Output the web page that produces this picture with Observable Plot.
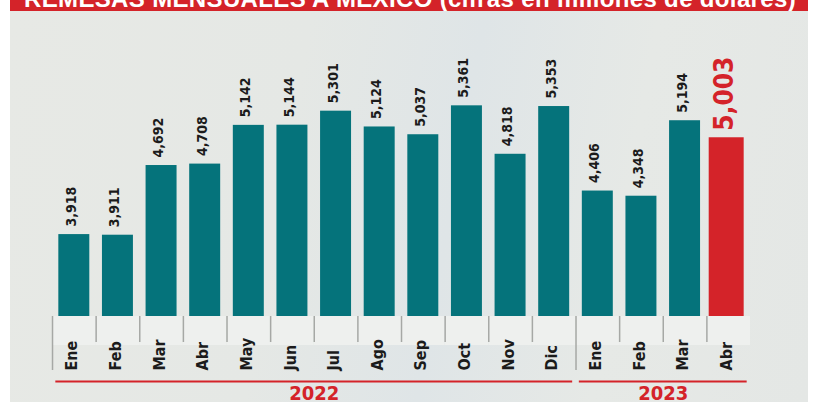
<!DOCTYPE html>
<html>
<head>
<meta charset="utf-8">
<script src="https://cdn.jsdelivr.net/npm/d3@7"></script>
<script src="https://cdn.jsdelivr.net/npm/@observablehq/plot@0.6"></script>
<style>
  html, body { margin: 0; padding: 0; background: #ffffff; }
  #wrap { position: relative; width: 818px; height: 402px; overflow: hidden; }
  #panel { position: absolute; left: 10px; top: 0; width: 798px; height: 402px;
    background: linear-gradient(100deg, #e7e9e5 0%, #e5e8e5 35%, #dfe5e7 55%, #e6e9e6 75%, #e4e7e5 100%); }
  #title { position: absolute; left: 10px; top: 0; width: 798px; height: 11px; background: #d42329; overflow: hidden; }
  #title span { position: absolute; left: 14px; top: -13px; white-space: nowrap; color: #fff;
    font: bold 24px "Liberation Sans", Arial, sans-serif; line-height: 24px; letter-spacing: 0.35px; }
  #chart { position: absolute; left: 0; top: 0; }
</style>
</head>
<body>
<div id="wrap">
  <div id="panel"></div>
  <div id="title"><span>REMESAS MENSUALES A MÉXICO (cifras en millones de dólares)</span></div>
  <div id="chart"></div>
</div>
<script>
const months = ["Ene","Feb","Mar","Abr","May","Jun","Jul","Ago","Sep","Oct","Nov","Dic","Ene","Feb","Mar","Abr"];
const years  = [2022,2022,2022,2022,2022,2022,2022,2022,2022,2022,2022,2022,2023,2023,2023,2023];
const values = [3918,3911,4692,4708,5142,5144,5301,5124,5037,5361,4818,5353,4406,4348,5194,5003];
const yearLabels = ["2022","2023"];

const data = months.map((m, i) => ({
  key: years[i] + "-" + i,
  month: m,
  year: String(years[i]),
  value: values[i],
  latest: i === values.length - 1
}));
const keys = data.map(d => d.key);
const yearGroups = yearLabels.map(y => {
  const ks = data.filter(d => d.year === y).map(d => d.key);
  return { year: y, first: ks[0], last: ks[ks.length - 1], mid: ks[Math.floor(ks.length / 2)] };
});
const firstKeys = new Set(yearGroups.map(g => g.first));

const teal = "#05737b";
const red = "#d42329";
const base = 3000;
const fmt = d3.format(",");
const font = "'DejaVu Sans Condensed', 'DejaVu Sans', sans-serif";
const half = -21.8;

const plot = Plot.plot({
  width: 818, height: 402,
  marginLeft: 52, marginRight: 68, marginTop: 84, marginBottom: 86,
  x: { domain: keys, paddingInner: 0.29, paddingOuter: 0.145, round: false, axis: null },
  y: { domain: [base, 5600], axis: null },
  style: { background: "transparent", overflow: "visible", fontFamily: font },
  marks: [
    Plot.barY(data, { x: "key", y1: base, y2: base, insetBottom: -29, insetLeft: -6.3, insetRight: -6.3, fill: "#eef0ee" }),
    Plot.ruleX(data.filter(d => !firstKeys.has(d.key)), { x: "key", y1: base, y2: base, dx: half, insetBottom: -26, stroke: "#a6a8a5", strokeWidth: 1.5 }),
    Plot.ruleX(data.filter(d => firstKeys.has(d.key)), { x: "key", y1: base, y2: base, dx: half, insetBottom: -54, stroke: "#a6a8a5", strokeWidth: 1.5 }),
    Plot.barY(data.filter(d => !d.latest), { x: "key", y1: base, y2: "value", fill: teal }),
    Plot.barY(data.filter(d => d.latest), { x: "key", y1: base, y2: "value", fill: red, insetLeft: -4, insetRight: 0 }),
    Plot.text(data.filter(d => !d.latest), { x: "key", y: "value", text: d => fmt(d.value), rotate: -90, textAnchor: "start", lineAnchor: "middle", dy: -8, dx: -3, fontSize: 14, fontWeight: "bold", fill: "#1b1b1b", ariaLabel: "vlabels" }),
    Plot.text(data.filter(d => d.latest), { x: "key", y: "value", text: d => fmt(d.value), rotate: -90, textAnchor: "start", lineAnchor: "middle", dy: -7, dx: -4, fontSize: 26, fontWeight: "bold", fill: red, ariaLabel: "vlatest" }),
    Plot.text(data, { x: "key", y: () => base, text: "month", rotate: -90, textAnchor: "start", lineAnchor: "middle", dy: 54, dx: -2, fontSize: 16, fontWeight: "bold", fill: "#1b1b1b", ariaLabel: "months" }),
    Plot.ruleY(yearGroups, { x1: "first", x2: "last", y: () => base, dy: 65, insetLeft: -3, insetRight: -3, stroke: red, strokeWidth: 1.8 }),
    Plot.text(yearGroups, { x: "mid", y: () => base, text: "year", dx: half, dy: 83, lineAnchor: "bottom", fontSize: 20, fontWeight: "bold", fill: red, ariaLabel: "years" })
  ]
});

function squeeze(label, s) {
  d3.select(plot).selectAll(`g[aria-label="${label}"] text`).each(function () {
    const t = this.getAttribute("transform");
    if (t) {
      this.setAttribute("transform", t + ` scale(${s},1)`);
    } else {
      const x = +this.getAttribute("x") || 0;
      this.setAttribute("transform", `translate(${x},0) scale(${s},1) translate(${-x},0)`);
    }
  });
}
squeeze("vlabels", 0.8);
squeeze("vlatest", 0.85);
squeeze("years", 0.85);

document.getElementById("chart").appendChild(plot);
</script>
</body>
</html>
